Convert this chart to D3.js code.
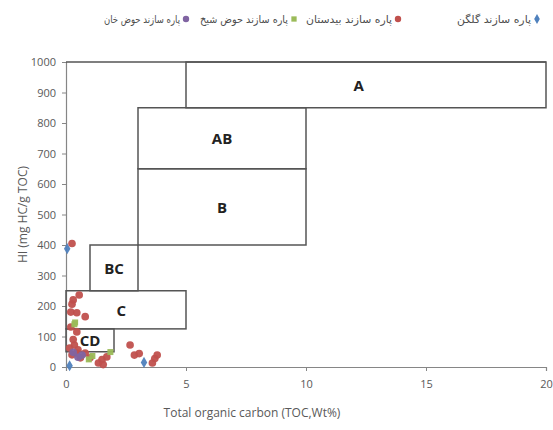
<!DOCTYPE html>
<html>
<head>
<meta charset="utf-8">
<script src="https://cdn.jsdelivr.net/npm/d3@7"></script>
<style>
  html, body { margin: 0; padding: 0; background: #fff; }
  svg { display: block; }
</style>
</head>
<body>
<svg id="chart" width="553" height="430"></svg>
<script>
// Sample points: [TOC wt%, HI mg HC/g TOC]
const galgan = [[0.05, 388], [0.15, 4], [3.25, 15]];
const bidestan = [
  [0.25, 405], [0.55, 236], [0.3, 220], [0.25, 206], [0.2, 180], [0.45, 178],
  [0.8, 165], [0.2, 131], [0.45, 115], [0.3, 90], [0.35, 72], [0.15, 62],
  [0.5, 56], [0.45, 46], [0.8, 46], [0.25, 40], [1.5, 24], [1.7, 33],
  [1.35, 13], [1.55, 8], [2.67, 72], [2.85, 39], [3.05, 44], [3.7, 28],
  [3.8, 39], [3.6, 13], [0.6, 30], [1.0, 30]
];
const hozSheikh = [[0.38, 146], [0.35, 140], [1.1, 36], [1.85, 49], [0.95, 25]];
const hozKhan = [[0.67, 39], [0.5, 32], [0.3, 48]];

// Kerogen-quality fields: [TOC from, TOC to, HI from, HI to, label, label TOC, label HI]
const zones = [
  [5, 20, 850, 1000, "A", 12.2, 925],
  [3, 10, 650, 850, "AB", 6.5, 750],
  [3, 10, 400, 650, "B", 6.5, 525],
  [1, 3, 250, 400, "BC", 2, 325],
  [0, 5, 125, 250, "C", 2.3, 187.5],
  [0, 2, 50, 125, "CD", 1, 87.5]
];

const xTicks = [0, 5, 10, 15, 20];
const yTicks = [0, 100, 200, 300, 400, 500, 600, 700, 800, 900, 1000];

const series = [
  { name: "پاره سازند حوض خان", data: hozKhan, color: "#8064A2", shape: d3.symbolCircle, lx: 186, w: 76 },
  { name: "پاره سازند حوض شیخ", data: hozSheikh, color: "#9BBB59", shape: d3.symbolSquare, lx: 294, w: 88 },
  { name: "پاره سازند بیدستان", data: bidestan, color: "#C0504D", shape: d3.symbolCircle, lx: 398, w: 86 },
  { name: "پاره سازند گلگن", data: galgan, color: "#4F81BD", shape: d3.symbolDiamond, lx: 537, w: 74 }
];

const svg = d3.select("#chart");
const x = d3.scaleLinear().domain([0, 20]).range([66, 546]);
const y = d3.scaleLinear().domain([0, 1000]).range([367, 62]);

const axisColor = "#868686";
const textColor = "#595959";
const font = "'Open Sans', 'DejaVu Sans', sans-serif";

// Y axis
const yAxis = svg.append("g").attr("transform", `translate(${x(0)},0)`)
  .call(d3.axisLeft(y).tickValues(yTicks).tickSize(4).tickPadding(6).tickFormat(d3.format("d")));
yAxis.select(".domain").attr("stroke", axisColor).attr("stroke-width", 1.2);
yAxis.selectAll(".tick line").attr("stroke", axisColor);
yAxis.selectAll(".tick text").attr("fill", textColor).attr("font-size", 11).attr("font-family", font);

// X axis
const xAxis = svg.append("g").attr("transform", `translate(0,${y(0)})`)
  .call(d3.axisBottom(x).tickValues(xTicks).tickSize(4).tickPadding(9));
xAxis.select(".domain").attr("stroke", axisColor).attr("stroke-width", 1.2);
xAxis.selectAll(".tick line").attr("stroke", axisColor);
xAxis.selectAll(".tick text").attr("fill", textColor).attr("font-size", 11).attr("font-family", font);

// Top border of the plot area
svg.append("line")
  .attr("x1", x(0)).attr("x2", x(20)).attr("y1", y(1000)).attr("y2", y(1000))
  .attr("stroke", "#555").attr("stroke-width", 1.5);

// Field boxes
svg.append("g").selectAll("rect").data(zones).join("rect")
  .attr("x", d => x(d[0])).attr("y", d => y(d[3]))
  .attr("width", d => x(d[1]) - x(d[0])).attr("height", d => y(d[2]) - y(d[3]))
  .attr("fill", "none").attr("stroke", "#555").attr("stroke-width", 1.5);

// Points
series.slice().reverse().forEach(s => {
  svg.append("g").selectAll("path").data(s.data).join("path")
    .attr("transform", d => `translate(${x(d[0])},${y(d[1])})`)
    .attr("d", d3.symbol().type(s.shape).size(s.shape === d3.symbolCircle ? 46 : 36))
    .attr("fill", s.color).attr("fill-opacity", 0.95);
});

// Field labels
svg.append("g").selectAll("text").data(zones).join("text")
  .attr("x", d => x(d[5])).attr("y", d => y(d[6]))
  .attr("text-anchor", "middle").attr("dominant-baseline", "central")
  .attr("font-family", font).attr("font-weight", "bold").attr("font-size", 15)
  .attr("fill", "#222").text(d => d[4]);

// Axis titles
svg.append("text")
  .attr("transform", `translate(22,${(y(0) + y(1000)) / 2}) rotate(-90)`)
  .attr("text-anchor", "middle").attr("dominant-baseline", "central")
  .attr("font-family", font).attr("font-size", 12).attr("fill", textColor)
  .text("HI (mg HC/g TOC)");
svg.append("text")
  .attr("x", 252).attr("y", 417).attr("text-anchor", "middle")
  .attr("font-family", font).attr("font-size", 12).attr("fill", textColor)
  .text("Total organic carbon (TOC,Wt%)");

// Legend (right-to-left entries, marker to the right of each name)
const legend = svg.append("g");
series.forEach(s => {
  legend.append("path")
    .attr("transform", `translate(${s.lx},19)`)
    .attr("d", d3.symbol().type(s.shape).size(s.shape === d3.symbolCircle ? 32 : 28))
    .attr("fill", s.color);
  legend.append("text")
    .attr("x", s.lx - 6 - s.w).attr("y", 19)
    .attr("textLength", s.w).attr("lengthAdjust", "spacingAndGlyphs")
    .attr("dominant-baseline", "central")
    .attr("font-family", "'DejaVu Sans', sans-serif").attr("font-size", 10.5)
    .attr("fill", "#4d4d4d").text(s.name);
});
</script>
</body>
</html>
